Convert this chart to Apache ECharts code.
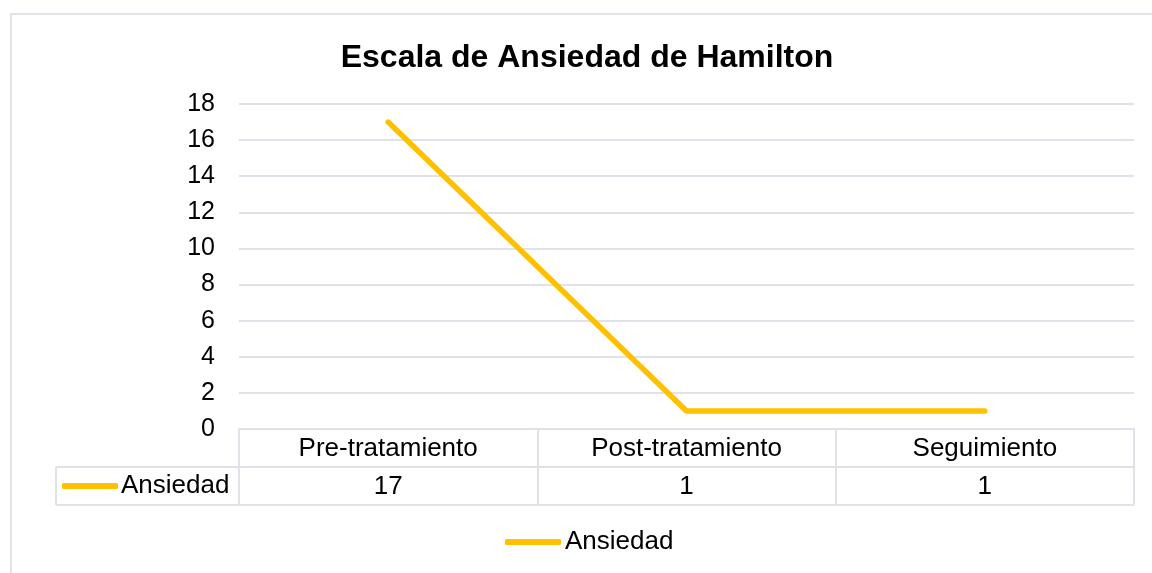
<!DOCTYPE html>
<html>
<head>
<meta charset="utf-8">
<title>Escala de Ansiedad de Hamilton</title>
<script src="https://cdn.jsdelivr.net/npm/echarts@6/dist/echarts.min.js"></script>
<style>
  html, body { margin: 0; padding: 0; background: #fff; }
  #chart { width: 1152px; height: 573px; }
</style>
</head>
<body>
<div id="chart"></div>
<script>
// data
var categories = ['Pre-tratamiento', 'Post-tratamiento', 'Seguimiento'];
var ansiedad = [17, 1, 1];
var seriesName = 'Ansiedad';

var FONT = '"Liberation Sans", Arial, sans-serif';
var LINE_COLOR = '#FFC000';
var GRID_COLOR = '#dfe3e9';

// plot area (px)
var plotLeft = 239, plotRight = 1134, plotTop = 104, plotBottom = 429;
var rowH = 38;
var tableLeft = 56;

var chart = echarts.init(document.getElementById('chart'));

chart.setOption({
  animation: false,
  title: {
    text: 'Escala de Ansiedad de Hamilton',
    left: 582,
    top: 37,
    textAlign: 'center',
    textStyle: { fontFamily: FONT, fontSize: 32, fontWeight: 'bold', color: '#000' }
  },
  legend: [
    {
      data: [seriesName],
      icon: 'roundRect',
      left: 62,
      top: plotBottom + rowH + 6,
      padding: 0,
      itemWidth: 56,
      itemHeight: 6,
      selectedMode: false,
      textStyle: { fontFamily: FONT, fontSize: 26, color: '#000', padding: [0, 0, 0, -2] }
    },
    {
      data: [seriesName],
      icon: 'roundRect',
      left: 505,
      top: 529,
      padding: 0,
      itemWidth: 56,
      itemHeight: 6,
      selectedMode: false,
      textStyle: { fontFamily: FONT, fontSize: 26, color: '#000', padding: [0, 0, 0, -1] }
    }
  ],
  grid: {
    left: plotLeft,
    right: 1152 - plotRight,
    top: plotTop,
    bottom: 573 - plotBottom
  },
  xAxis: [
    {
      type: 'category',
      data: categories,
      boundaryGap: true,
      axisLine: { show: true, lineStyle: { color: GRID_COLOR, width: 2 } },
      axisTick: { show: true, length: rowH * 2, lineStyle: { color: GRID_COLOR, width: 2 } },
      axisLabel: { margin: 7, fontFamily: FONT, fontSize: 26, color: '#000' }
    },
    {
      type: 'category',
      data: ansiedad.map(String),
      position: 'bottom',
      offset: rowH,
      boundaryGap: true,
      axisLine: { show: true, lineStyle: { color: GRID_COLOR, width: 2 } },
      axisTick: { show: false },
      axisLabel: { margin: 7, fontFamily: FONT, fontSize: 26, color: '#000' }
    }
  ],
  yAxis: {
    type: 'value',
    min: 0,
    max: 18,
    interval: 2,
    axisLine: { show: false },
    axisTick: { show: false },
    axisLabel: { margin: 24, fontFamily: FONT, fontSize: 25, color: '#000' },
    splitLine: { lineStyle: { color: GRID_COLOR, width: 2 } }
  },
  series: [
    {
      name: seriesName,
      type: 'line',
      data: ansiedad,
      symbol: 'none',
      lineStyle: { color: LINE_COLOR, width: 5.5, cap: 'round', join: 'round' },
      itemStyle: { color: LINE_COLOR }
    }
  ],
  graphic: [
    // outer chart border
    { type: 'rect', shape: { x: 11, y: 14, width: 1200, height: 700 }, style: { fill: null, stroke: GRID_COLOR, lineWidth: 2 }, silent: true },
    // legend cell of the data table
    { type: 'line', shape: { x1: tableLeft, y1: plotBottom + rowH, x2: plotLeft, y2: plotBottom + rowH }, style: { stroke: GRID_COLOR, lineWidth: 2 }, silent: true },
    { type: 'line', shape: { x1: tableLeft, y1: plotBottom + rowH * 2, x2: plotRight, y2: plotBottom + rowH * 2 }, style: { stroke: GRID_COLOR, lineWidth: 2 }, silent: true },
    { type: 'line', shape: { x1: tableLeft, y1: plotBottom + rowH, x2: tableLeft, y2: plotBottom + rowH * 2 }, style: { stroke: GRID_COLOR, lineWidth: 2 }, silent: true }
  ]
});
</script>
</body>
</html>
